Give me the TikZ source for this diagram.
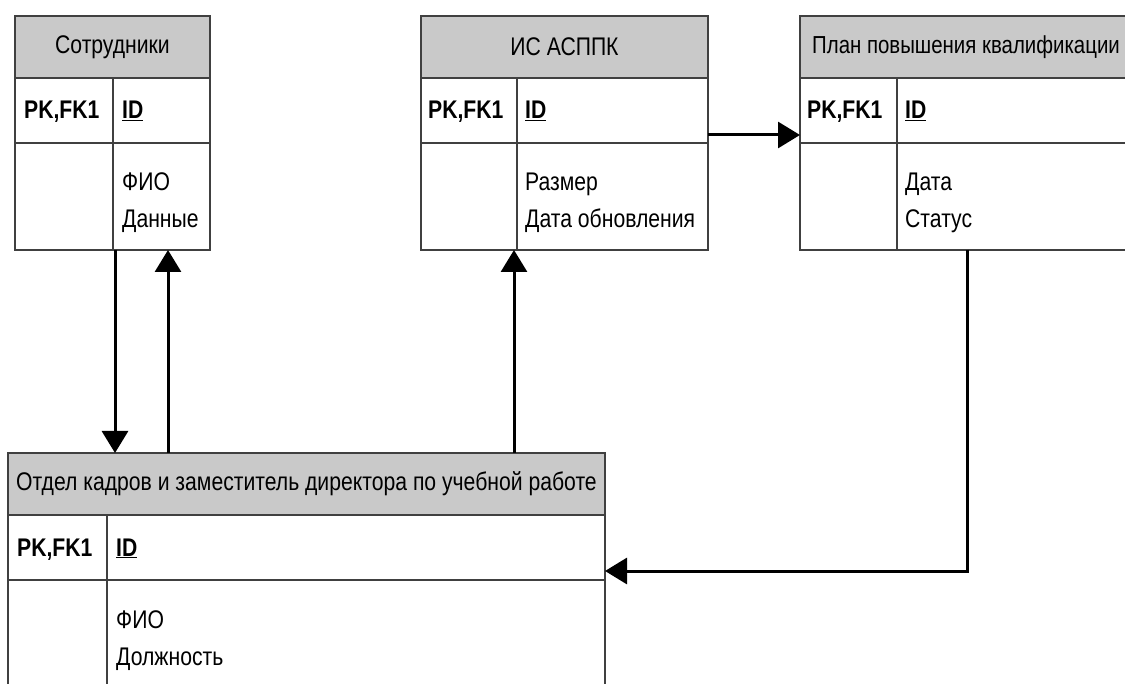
\documentclass[tikz,border=0pt]{standalone}
\usepackage{fontspec}
\setmainfont{Liberation Sans}[FakeStretch=0.83]
\usetikzlibrary{arrows.meta}
\definecolor{hdrgray}{RGB}{201,201,201}
\definecolor{tblline}{RGB}{64,64,64}
\tikzset{
  cell/.style={draw=tblline, line width=1.5pt, rectangle, inner sep=0pt,
    outer sep=0pt, anchor=north west},
  head/.style={cell, fill=hdrgray, font=\fontsize{25.5}{30}\selectfont},
  txt/.style={anchor=base west, inner sep=0pt, font=\fontsize{25.5}{30}\selectfont},
  keytxt/.style={txt, font=\fontsize{25.5}{30}\selectfont\bfseries},
  divider/.style={draw=tblline, line width=1.5pt},
  conn/.style={draw=black, line width=3pt, -{Triangle[length=22pt,width=26pt]}},
}
\begin{document}
\begin{tikzpicture}[x=1pt,y=-1pt]
\useasboundingbox (0,0) rectangle (1125,684);
\fill[white] (0,0) rectangle (1125,684);
\clip (0,0) rectangle (1125,684);

% --- Сотрудники
\node[head, minimum width=195pt, minimum height=62pt] (t1h) at (15,16) {Сотрудники};
\node[cell, minimum width=195pt, minimum height=65pt] (t1k) at (15,78) {};
\node[cell, minimum width=195pt, minimum height=107pt] (t1a) at (15,143) {};
\draw[divider] (t1k.north -| 113,0) -- (t1a.south -| 113,0);
\node[keytxt] (t1pk) at (24,119) {PK,FK1};
\node[keytxt] (t1id) at (122,119) {\underline{ID}};
\node[txt] (t1f1) at (122,191) {ФИО};
\node[txt] (t1f2) at (122,228) {Данные};

% --- ИС АСППК
\node[head, minimum width=287pt, minimum height=62pt] (t2h) at (421,16) {ИС АСППК};
\node[cell, minimum width=287pt, minimum height=65pt] (t2k) at (421,78) {};
\node[cell, minimum width=287pt, minimum height=107pt] (t2a) at (421,143) {};
\draw[divider] (t2k.north -| 517,0) -- (t2a.south -| 517,0);
\node[keytxt] (t2pk) at (428,119) {PK,FK1};
\node[keytxt] (t2id) at (525,119) {\underline{ID}};
\node[txt] (t2f1) at (525,191) {Размер};
\node[txt] (t2f2) at (525,228) {Дата обновления};

% --- План повышения квалификации
\node[head, minimum width=332pt, minimum height=62pt,
      font=\fontsize{24.6}{30}\selectfont] (t3h) at (800,16) {План повышения квалификации};
\node[cell, minimum width=332pt, minimum height=65pt] (t3k) at (800,78) {};
\node[cell, minimum width=332pt, minimum height=107pt] (t3a) at (800,143) {};
\draw[divider] (t3k.north -| 897,0) -- (t3a.south -| 897,0);
\node[keytxt] (t3pk) at (807,119) {PK,FK1};
\node[keytxt] (t3id) at (905,119) {\underline{ID}};
\node[txt] (t3f1) at (905,191) {Дата};
\node[txt] (t3f2) at (905,228) {Статус};

% --- Отдел кадров и заместитель директора по учебной работе
\node[head, minimum width=597pt, minimum height=62pt] (t4h) at (8,453) {Отдел кадров и заместитель директора по учебной работе};
\node[cell, minimum width=597pt, minimum height=65pt] (t4k) at (8,515) {};
\node[cell, minimum width=597pt, minimum height=107pt] (t4a) at (8,580) {};
\draw[divider] (t4k.north -| 107,0) -- (t4a.south -| 107,0);
\node[keytxt] (t4pk) at (17,556) {PK,FK1};
\node[keytxt] (t4id) at (116,556) {\underline{ID}};
\node[txt] (t4f1) at (116,628) {ФИО};
\node[txt] (t4f2) at (116,665) {Должность};

% --- connectors
\draw[conn] (t1a.south -| 115,0) -- (t4h.north -| 115,0);
\draw[conn] (t4h.north -| 168,0) -- (t1a.south -| 168,0);
\draw[conn] (t4h.north -| 514,0) -- (t2a.south -| 514,0);
\draw[conn] ([yshift=-24.5pt]t2k.east) -- ([yshift=-24.5pt]t3k.west);
\draw[conn] (t3a.south -| 967,0) |- ([yshift=-23.5pt]t4k.east);
\end{tikzpicture}
\end{document}
